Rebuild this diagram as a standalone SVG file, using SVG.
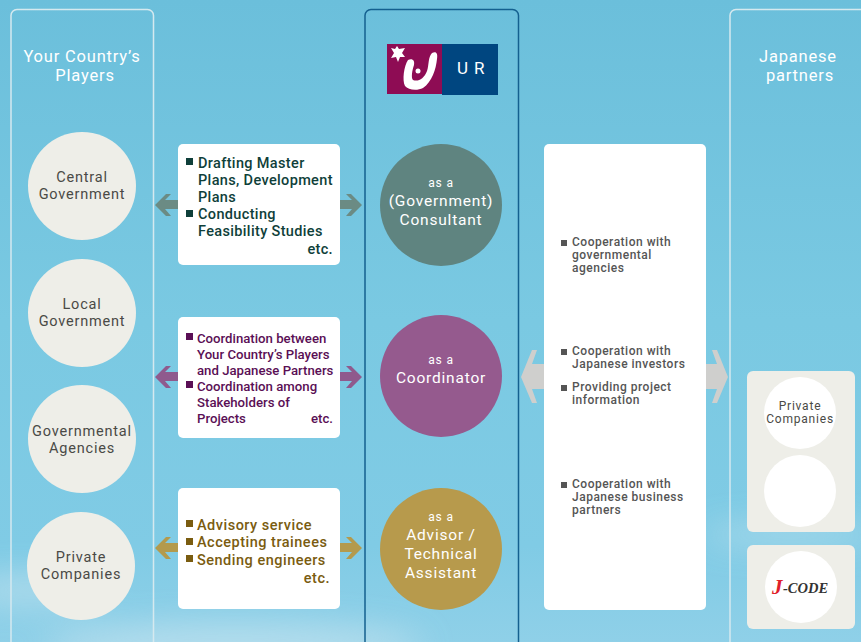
<svg xmlns="http://www.w3.org/2000/svg" width="861" height="642" viewBox="0 0 861 642">
<style>
text{font-family:"Roboto","Liberation Sans",sans-serif;letter-spacing:.8px}
.c{text-anchor:middle}
.panel{fill:none;stroke:#d5e9ef;stroke-width:1.5}
.title{fill:#fff;font-size:16.5px}
.pl{fill:#4a4a46;font-size:14.5px}
.disc{fill:#eeeee8}
.card{fill:#fff}
.w{fill:#fff}
.t1{fill:#0f3f3a;font-size:14.5px;font-weight:500;letter-spacing:.35px}
.t2{fill:#5a0f55;font-size:13.200px;font-weight:500;letter-spacing:0}
.t3{fill:#7a5c10;font-size:14.5px;font-weight:500;letter-spacing:.5px}
.t4{fill:#555;font-size:12px;font-weight:500;letter-spacing:.5px}
</style>
<defs>
<linearGradient id="bg" x1="0" y1="0" x2="0" y2="1">
<stop offset="0" stop-color="#6bbfdb"/><stop offset=".5" stop-color="#7ac9e2"/><stop offset=".85" stop-color="#80cbe5"/><stop offset="1" stop-color="#8fd0e8"/>
</linearGradient>
<filter id="blur" x="-30%" y="-100%" width="160%" height="300%"><feGaussianBlur stdDeviation="16"/></filter>
</defs>
<rect width="861" height="642" fill="url(#bg)"/>
<g id="clouds" filter="url(#blur)" fill="#c4e3ef" opacity=".7">
<ellipse cx="235" cy="645" rx="190" ry="22"/>
<ellipse cx="790" cy="535" rx="90" ry="10"/>
<ellipse cx="30" cy="590" rx="70" ry="14"/>
</g>
<rect id="panel-left" class="panel" x="11" y="9.500" width="142.500" height="650" rx="6"/>
<rect id="panel-center" x="365" y="9.500" width="153.500" height="650" rx="6" fill="none" stroke="#14608f" stroke-width="1.500"/>
<rect id="panel-right" class="panel" x="730" y="9.500" width="150" height="650" rx="6"/>
<text class="title c" x="82" y="62">Your Country’s</text>
<text class="title c" x="85" y="81">Players</text>
<text class="title c" x="798" y="62">Japanese</text>
<text class="title c" x="800" y="81">partners</text>

<g id="connectors">
<g fill="#6b8b84">
<path d="M155 205L166 194H171L165 200H178V209H165L171 216H166Z"/>
<path d="M340 200H352L346 194H351L362 205L351 216H346L352 209H340Z"/>
</g>
<g fill="#8f5a8d">
<path d="M155 377L166 366H171L165 372H178V381H165L171 388H166Z"/>
<path d="M340 372H352L346 366H351L362 377L351 388H346L352 381H340Z"/>
</g>
<g fill="#b39a4d">
<path d="M155 548L166 537H171L165 543H178V552H165L171 559H166Z"/>
<path d="M340 543H352L346 537H351L362 548L351 559H346L352 552H340Z"/>
</g>
<g fill="#cfcfcd">
<path d="M521 377L532 350H537L532 364H544V389H532L537 403H532Z"/>
<path d="M706 364H717L712 350H717L728 377L717 403H712L717 389H706Z"/>
</g>
</g>

<g id="player-central"><circle class="disc" cx="82" cy="186" r="54"/><text class="pl c" x="82" y="182">Central</text><text class="pl c" x="82" y="199">Government</text></g>
<g id="player-local"><circle class="disc" cx="82" cy="313" r="54"/><text class="pl c" x="82" y="309">Local</text><text class="pl c" x="82" y="326">Government</text></g>
<g id="player-agencies"><circle class="disc" cx="82" cy="439" r="54"/><text class="pl c" x="82" y="436">Governmental</text><text class="pl c" x="82" y="453">Agencies</text></g>
<g id="player-private"><circle class="disc" cx="81" cy="566" r="54"/><text class="pl c" x="81" y="562">Private</text><text class="pl c" x="81" y="579">Companies</text></g>

<g id="card-consultant">
<rect class="card" x="178" y="144" width="162" height="121" rx="5"/>
<rect x="186" y="158" width="7" height="7" fill="#0f3f3a"/><rect x="186" y="210" width="7" height="7" fill="#0f3f3a"/>
<text class="t1" x="198" y="168">Drafting Master</text>
<text class="t1" x="198" y="185">Plans, Development</text>
<text class="t1" x="198" y="202">Plans</text>
<text class="t1" x="198" y="219">Conducting</text>
<text class="t1" x="198" y="236">Feasibility Studies</text>
<text class="t1" x="333" y="254" text-anchor="end">etc.</text>
</g>
<g id="card-coordinator">
<rect class="card" x="178" y="317" width="162" height="121" rx="5"/>
<rect x="186" y="333" width="7" height="7" fill="#5a0f55"/><rect x="186" y="381" width="7" height="7" fill="#5a0f55"/>
<text class="t2" x="197" y="343">Coordination between</text>
<text class="t2" x="197" y="359">Your Country’s Players</text>
<text class="t2" x="197" y="375">and Japanese Partners</text>
<text class="t2" x="197" y="391">Coordination among</text>
<text class="t2" x="197" y="407">Stakeholders of</text>
<text class="t2" x="197" y="423">Projects</text>
<text class="t2" x="333" y="423" text-anchor="end">etc.</text>
</g>
<g id="card-advisor">
<rect class="card" x="178" y="488" width="162" height="121" rx="5"/>
<rect x="186" y="520" width="7" height="7" fill="#7a5c10"/><rect x="186" y="538" width="7" height="7" fill="#7a5c10"/><rect x="186" y="555" width="7" height="7" fill="#7a5c10"/>
<text class="t3" x="197" y="530">Advisory service</text>
<text class="t3" x="197" y="547">Accepting trainees</text>
<text class="t3" x="197" y="565">Sending engineers</text>
<text class="t3" x="330" y="583" text-anchor="end">etc.</text>
</g>

<g id="logo">
<rect x="387" y="44" width="55" height="50" fill="#8e0c54"/>
<rect x="442" y="44" width="56" height="51" fill="#004680"/>
<path d="M391 48l4 1l2-3l2 3l6-1l-3 5l3 4l-5 0l-2 5l-2-5l-5 1l3-5z" fill="#fff"/>
<path d="M408 60c4-2 7 0 6 5c-2 6-3 13-1 15c5 2 11-1 14-9c2-6 1-14 5-18c4-2 6 0 5 6c-1 10-5 23-14 29c-6 3-15 2-18-2c-3-6-1-20 3-26z" fill="#fff"/>
<circle cx="418" cy="71" r="2.500" fill="#fff"/>
<text x="457" y="74" fill="#fff" font-size="17" style="letter-spacing:6px">UR</text>
</g>

<g id="role-consultant"><circle cx="441" cy="205" r="61" fill="#5f8480"/>
<text class="w c" x="441" y="187" font-size="12">as a</text>
<text class="w c" x="441" y="206" font-size="15.500">(Government)</text>
<text class="w c" x="441" y="225" font-size="15.500">Consultant</text></g>
<g id="role-coordinator"><circle cx="441" cy="376" r="61" fill="#955a8e"/>
<text class="w c" x="441" y="364" font-size="12">as a</text>
<text class="w c" x="441" y="383" font-size="15.500">Coordinator</text></g>
<g id="role-advisor"><circle cx="441" cy="549" r="61" fill="#b79a4c"/>
<text class="w c" x="441" y="521" font-size="12">as a</text>
<text class="w c" x="441" y="540" font-size="15.500">Advisor /</text>
<text class="w c" x="441" y="559" font-size="15.500">Technical</text>
<text class="w c" x="441" y="578" font-size="15.500">Assistant</text></g>

<g id="card-partners">
<rect class="card" x="544" y="144" width="162" height="466" rx="5"/>
<g fill="#555"><rect x="561" y="240" width="6" height="6"/><rect x="561" y="349" width="6" height="6"/><rect x="561" y="385" width="6" height="6"/><rect x="561" y="482" width="6" height="6"/></g>
<text class="t4" x="572" y="246">Cooperation with</text>
<text class="t4" x="572" y="259">governmental</text>
<text class="t4" x="572" y="272">agencies</text>
<text class="t4" x="572" y="355">Cooperation with</text>
<text class="t4" x="572" y="368">Japanese investors</text>
<text class="t4" x="572" y="391">Providing project</text>
<text class="t4" x="572" y="404">information</text>
<text class="t4" x="572" y="488">Cooperation with</text>
<text class="t4" x="572" y="501">Japanese business</text>
<text class="t4" x="572" y="514">partners</text>
</g>

<g id="partner-private">
<rect class="disc" x="747" y="371" width="108" height="161" rx="6"/>
<circle class="card" cx="800" cy="413" r="36"/>
<circle class="card" cx="800" cy="491" r="36"/>
<text class="c" x="800" y="410" font-size="12" fill="#4a4a46">Private</text>
<text class="c" x="800" y="423" font-size="12" fill="#4a4a46">Companies</text>
</g>
<g id="partner-jcode">
<rect class="disc" x="747" y="545" width="108" height="84" rx="6"/>
<circle class="card" cx="801" cy="587" r="36"/>
<text x="772" y="594" font-size="21" font-style="italic" font-weight="700" fill="#e0202a" style="font-family:'Liberation Serif',serif;letter-spacing:0">J</text>
<text x="783" y="593" font-size="14.500" font-style="italic" font-weight="700" fill="#333" style="font-family:'Liberation Serif',serif;letter-spacing:0">-CODE</text>
</g>
</svg>
